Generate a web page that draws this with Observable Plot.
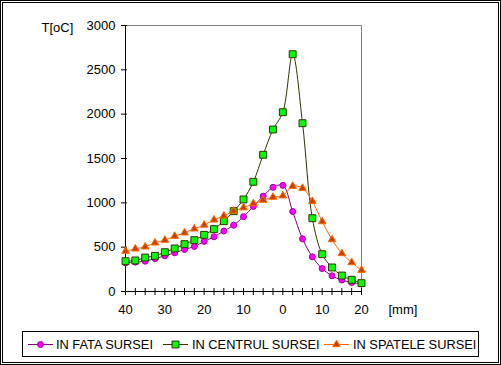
<!DOCTYPE html>
<html>
<head>
<meta charset="utf-8">
<script src="https://cdn.jsdelivr.net/npm/d3@7"></script>
<script src="https://cdn.jsdelivr.net/npm/@observablehq/plot@0.6"></script>
<style>
html, body { margin: 0; padding: 0; background: #fff; }
#wrap { position: relative; width: 501px; height: 365px; overflow: hidden; background: #fff;
  font-family: Arial, "Liberation Sans", sans-serif; }
#wrap svg.chart { position: absolute; left: 0; top: 0; }
.b { position: absolute; border: 1px solid #000; box-sizing: border-box; pointer-events: none; }
#legend { position: absolute; left: 22px; top: 331px; width: 457px; height: 26px; border: 1px solid #000;
  box-sizing: border-box; background: #fff; }
.item { position: absolute; top: 0; height: 24px; display: flex; align-items: center; font-size: 12.8px;
  color: #000; white-space: nowrap; }
.item svg { display: block; }
</style>
</head>
<body>
<div id="wrap"></div>
<script>
// ---- data ----
const positions = [-40, -37.5, -35, -32.5, -30, -27.5, -25, -22.5, -20, -17.5, -15, -12.5, -10,
  -7.5, -5, -2.5, 0, 2.5, 5, 7.5, 10, 12.5, 15, 17.5, 20];
const inFata = [323, 331, 342, 372, 402, 436, 474, 508, 565, 617, 682, 748, 844,
  959, 1075, 1175, 1197, 902, 594, 391, 259, 177, 129, 101, 87];
const inCentru = [342, 350, 383, 402, 443, 485, 534, 579, 639, 703, 793, 906, 1038,
  1237, 1542, 1827, 2022, 2676, 1898, 827, 421, 271, 180, 132, 94];
const inSpate = [455, 481, 504, 549, 579, 624, 662, 707, 750, 808, 853, 908, 945,
  992, 1030, 1064, 1080, 1188, 1165, 1018, 789, 586, 429, 327, 240];
const seriesNames = ["IN FATA SURSEI", "IN CENTRUL SURSEI", "IN SPATELE SURSEI"];
const yTicks = [0, 500, 1000, 1500, 2000, 2500, 3000];
const xLabelTicks = [-40, -30, -20, -10, 0, 10, 20];
const yTitle = ["T[oC]"];
const xTitle = ["[mm]"];

// ---- styles ----
const styles = [
  {line: "#800080", fill: "#FF00FF", stroke: "#A000A0", symbol: "circle", r: 3},
  {line: "#333300", fill: "#00FF00", stroke: "#333300", symbol: "square", r: 3.9},
  {line: "#FF6600", fill: "#C84000", stroke: "#FF6600", symbol: "triangle", r: 2.8}
];

const seriesValues = [inFata, inCentru, inSpate];
const table = seriesNames.map((name, s) =>
  positions.map((x, i) => ({series: name, x, v: seriesValues[s][i]})));

const lineMarks = table.map((rows, s) =>
  Plot.line(rows, {x: "x", y: "v", stroke: styles[s].line, strokeWidth: 1, curve: "catmull-rom"}));
const dotMarks = table.map((rows, s) =>
  Plot.dot(rows, {x: "x", y: "v", symbol: styles[s].symbol, r: styles[s].r,
    fill: styles[s].fill, stroke: styles[s].stroke, strokeWidth: 1}));

const chart = Plot.plot({
  width: 501,
  height: 365,
  marginLeft: 125,
  marginRight: 140,
  marginTop: 25,
  marginBottom: 74,
  className: "chart",
  style: {fontFamily: 'Arial, "Liberation Sans", sans-serif', fontSize: "13px", color: "#000", background: "transparent"},
  x: {domain: [-40, 20]},
  y: {domain: [0, 3000]},
  marks: [
    Plot.frame({stroke: "#808080"}),
    Plot.ruleX([-40], {stroke: "#000"}),
    Plot.ruleY([0], {stroke: "#000"}),
    Plot.axisY({ticks: yTicks, tickSize: 6, dx: 2, fill: "none", label: null}),
    Plot.axisY({ticks: yTicks, tickSize: 0, tickPadding: 10, tickFormat: d => String(d), label: null}),
    Plot.axisX({ticks: positions, tickSize: 7, dy: -3, fill: "none", label: null}),
    Plot.axisX({ticks: xLabelTicks, tickSize: 0, tickPadding: 13, tickFormat: d => String(Math.abs(d)), label: null}),
    Plot.text(yTitle, {text: d => d, frameAnchor: "top-left", dx: -84, dy: 2, textAnchor: "start", lineAnchor: "middle", fill: "#000"}),
    Plot.text(xTitle, {text: d => d, frameAnchor: "bottom-right", dx: 27, dy: 18, textAnchor: "start", lineAnchor: "middle", fill: "#000"}),
    ...lineMarks,
    ...dotMarks
  ]
});

const wrap = document.getElementById("wrap");
wrap.appendChild(chart);

// double border
const outer = document.createElement("div");
outer.className = "b";
Object.assign(outer.style, {left: "0px", top: "0px", width: "501px", height: "365px"});
const inner = document.createElement("div");
inner.className = "b";
Object.assign(inner.style, {left: "2px", top: "2px", width: "497px", height: "361px"});
wrap.appendChild(outer);
wrap.appendChild(inner);

// legend
const legend = document.createElement("div");
legend.id = "legend";
const itemLefts = [5, 140, 301];
const gaps = [3, 4, 4];
seriesNames.forEach((name, s) => {
  const st = styles[s];
  const item = document.createElement("div");
  item.className = "item";
  item.style.left = itemLefts[s] + "px";
  const ns = "http://www.w3.org/2000/svg";
  const sw = document.createElementNS(ns, "svg");
  sw.setAttribute("width", 25);
  sw.setAttribute("height", 12);
  sw.style.marginRight = gaps[s] + "px";
  const ln = document.createElementNS(ns, "line");
  ln.setAttribute("x1", 0); ln.setAttribute("x2", 25);
  ln.setAttribute("y1", 6.5); ln.setAttribute("y2", 6.5);
  ln.setAttribute("stroke", st.line);
  sw.appendChild(ln);
  const sym = document.createElementNS(ns, "path");
  const symType = st.symbol === "circle" ? d3.symbolCircle : st.symbol === "square" ? d3.symbolSquare : d3.symbolTriangle;
  sym.setAttribute("d", d3.symbol(symType, Math.PI * st.r * st.r)());
  sym.setAttribute("transform", "translate(12.5,6.5)");
  sym.setAttribute("fill", st.fill);
  sym.setAttribute("stroke", st.stroke);
  sw.appendChild(sym);
  item.appendChild(sw);
  const tx = document.createElement("span");
  tx.textContent = name;
  item.appendChild(tx);
  legend.appendChild(item);
});
wrap.appendChild(legend);
</script>
</body>
</html>
